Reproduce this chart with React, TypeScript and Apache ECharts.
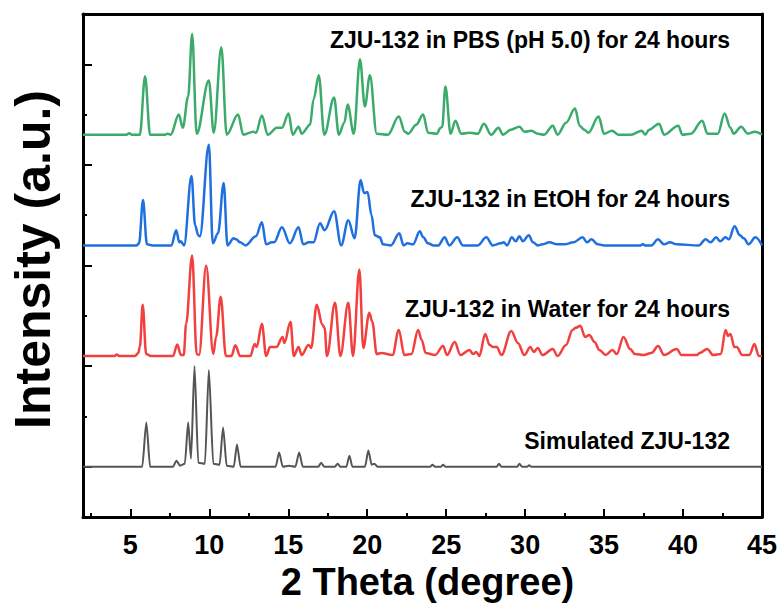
import React, { useEffect, useRef } from "react";
import * as echarts from "echarts";

const FONT = "'Liberation Sans', Arial, Helvetica, sans-serif";

const xMajorTicks = [5, 10, 15, 20, 25, 30, 35, 40, 45];
const xMinorTicks = [2.5, 7.5, 12.5, 17.5, 22.5, 27.5, 32.5, 37.5, 42.5];
const yMajorTicks = [50, 150, 250, 350, 450];
const yMinorTicks = [100, 200, 300, 400];

const seriesNames = [
  "Simulated ZJU-132",
  "ZJU-132 in Water for 24 hours",
  "ZJU-132 in EtOH for 24 hours",
  "ZJU-132 in PBS (pH 5.0) for 24 hours",
];
const seriesColors = ["#555555", "#F2403F", "#1E6FE0", "#3AAB6A"];
const seriesOffsets = [50, 160, 270, 380];

const simulated: [number, number][] = [
  [2, 0], [5.75, 0], [6.01, 44], [6.25, 0], [7.7, 0], [7.92, 6], [8.15, 1], [8.45, 3], [8.66, 44], [8.84, 8],
  [9.06, 100], [9.3, 4], [9.72, 3], [9.97, 96], [10.25, 3], [10.65, 2], [10.87, 39], [11.1, 1], [11.55, 0],
  [11.75, 22], [11.98, 0], [14.2, 0], [14.42, 14], [14.65, 0], [15.05, 1], [15.45, 0], [15.69, 14], [15.92, 0],
  [16.9, 0], [17.08, 4], [17.28, 0], [17.95, 0], [18.13, 3], [18.3, 0], [18.68, 0], [18.87, 11], [19.06, 0],
  [19.86, 0], [20.07, 16], [20.28, 2], [20.45, 3], [20.65, 0], [24.0, 0], [24.13, 2], [24.3, 0], [24.68, 0],
  [24.8, 2], [24.95, 0], [28.2, 0], [28.34, 3], [28.5, 0], [29.5, 0], [29.64, 3], [29.8, 0], [30.15, 0],
  [30.25, 1.5], [30.4, 0], [45, 0],
];

const water: [number, number][] = [
  [2, 0], [4.0, 0], [4.13, 1.5], [4.3, 0], [5.3, 0], [5.5, 3], [5.6, 9], [5.78, 51], [6.0, 2], [6.3, 0],
  [7.7, 0], [7.97, 11.5], [8.2, 1], [8.38, 1], [8.53, 32], [8.91, 100], [9.2, 2], [9.35, 1], [9.8, 90],
  [10.25, 2], [10.43, 19], [10.72, 59], [11.05, 0], [11.4, 0], [11.65, 10.7], [11.95, 0], [12.6, 0],
  [12.87, 12], [13.0, 9], [13.33, 32], [13.6, 0], [13.85, 9], [14.25, 9], [14.64, 19], [14.75, 13],
  [15.14, 34], [15.35, 0], [15.65, 9], [15.85, 1], [16.28, 11], [16.45, 8], [16.8, 51], [17.16, 31],
  [17.3, 28], [17.45, 0], [17.96, 53], [18.3, 0], [18.8, 53], [19.1, 0], [19.5, 86], [19.75, 8],
  [20.13, 43], [20.32, 34], [20.6, 2], [20.9, 3], [21.6, 1], [22.0, 26], [22.35, 1], [22.8, 2],
  [23.22, 26], [23.45, 16], [23.7, 3], [24.3, 1], [24.8, 10], [25.05, 1], [25.54, 14], [25.9, 1],
  [26.48, 6], [26.7, 2], [26.9, 4], [27.1, 0], [27.47, 22], [27.75, 11], [27.95, 9], [28.2, 9], [28.5, 1],
  [29.12, 25], [29.54, 13], [29.95, 1], [30.33, 9], [30.55, 4], [30.8, 8], [31.1, 1], [31.75, 7], [32.05, 0],
  [32.59, 11], [33.0, 26], [33.2, 28], [33.49, 30], [33.8, 19], [34.06, 21], [34.4, 14], [34.7, 6],
  [35.1, 1], [35.53, 6], [35.8, 2], [36.23, 19], [36.65, 7], [36.95, 2], [37.5, 1], [38.0, 3], [38.42, 10],
  [38.8, 1], [39.6, 7], [39.9, 1], [40.9, 1], [41.05, 3], [41.53, 7], [41.9, 1], [42.4, 2], [42.69, 26],
  [42.85, 20], [43.0, 22], [43.25, 9], [43.4, 9], [43.75, 1], [44.2, 1], [44.52, 12], [44.8, 0], [45, 0],
];

const ethanol: [number, number][] = [
  [2, 0], [5.4, 0], [5.55, 2], [5.8, 45], [6.05, 1], [6.4, 0], [7.6, 0], [7.9, 15], [8.1, 3], [8.2, 4],
  [8.4, 0], [8.87, 69], [9.1, 20], [9.3, 10], [9.4, 9], [9.97, 100], [10.22, 2], [10.55, 12], [10.91, 62],
  [11.15, 0], [11.54, 7], [11.7, 6], [11.95, 3], [12.3, 0], [12.95, 9], [13.33, 23], [13.6, 1], [13.95, 3],
  [14.1, 3], [14.6, 18], [15.1, 2], [15.65, 18], [15.95, 1], [16.3, 3], [16.6, 3], [17.01, 22], [17.3, 15],
  [17.9, 34], [18.35, 0], [18.8, 25], [19.2, 7], [19.58, 65], [19.8, 52], [20.02, 53], [20.27, 30],
  [20.48, 10], [20.8, 8], [21.0, 1], [21.5, 0], [22.03, 12], [22.3, 0], [22.55, 2], [22.9, 1], [23.33, 14],
  [23.55, 8], [23.85, 2], [24.2, 0], [24.5, 0], [24.9, 8], [25.2, 0], [25.7, 8], [26.05, 0], [27.0, 0],
  [27.54, 8], [27.95, 0], [28.45, 2], [28.65, 3], [28.85, 0], [29.16, 8], [29.4, 4], [29.64, 9], [29.85, 4],
  [30.23, 10], [30.5, 3], [30.8, 0], [31.1, 1], [31.53, 3], [32.05, 1], [32.5, 1], [33.05, 3], [33.64, 8],
  [33.92, 3], [34.2, 6], [34.6, 1], [35.0, 0], [37.3, 0], [37.45, 1], [37.6, 0], [38.0, 0], [38.41, 6],
  [38.8, 1], [39.17, 3], [39.6, 1], [41.0, 0], [41.43, 6], [41.75, 3], [42.1, 8], [42.35, 4], [42.69, 8],
  [42.9, 6], [43.26, 19], [43.6, 10], [43.85, 7], [44.15, 1], [44.58, 8], [45, 0],
];

const pbs: [number, number][] = [
  [2, 0], [4.75, 0], [4.92, 1.5], [5.1, 0], [5.6, 0], [5.93, 58], [6.25, 0], [7.2, 0], [7.35, 1], [7.55, 0],
  [8.07, 20], [8.32, 7], [8.66, 38], [8.91, 100], [9.2, 1], [9.97, 54], [10.28, 2], [10.76, 87], [11.1, 0],
  [11.82, 20], [12.15, 0], [12.8, 3], [12.95, 2], [13.33, 19], [13.7, 0], [14.28, 7], [14.6, 7], [15.02, 21],
  [15.28, 0], [15.65, 8], [15.85, 1], [16.38, 10], [16.6, 35], [16.93, 59], [17.28, 0], [17.9, 37],
  [18.2, 0], [18.55, 12], [18.76, 30], [19.15, 1], [19.54, 75], [19.85, 28], [20.17, 59], [20.6, 1],
  [21.3, 0], [22.0, 18], [22.38, 3], [22.6, 1], [23.1, 10], [23.54, 20], [23.85, 2], [24.4, 1], [24.65, 7],
  [24.75, 8], [24.95, 48], [25.28, 1], [25.58, 14], [25.95, 1], [26.5, 2], [27.0, 1], [27.39, 11],
  [27.85, 0], [28.31, 7], [28.6, 0], [29.1, 5], [29.64, 8], [29.95, 3], [30.4, 4], [30.8, 1], [31.2, 0],
  [31.75, 9], [32.05, 0], [32.59, 12], [33.16, 26], [33.45, 9], [33.75, 5], [34.0, 2], [34.65, 18],
  [35.0, 1], [35.5, 4], [35.9, 0], [36.7, 0], [37.4, 4], [37.6, 0], [37.85, 5], [38.48, 11], [38.8, 0],
  [39.7, 9], [39.95, 0], [40.5, 1], [41.21, 14], [41.55, 1], [42.2, 1], [42.63, 21], [43.0, 7], [43.2, 1],
  [43.68, 8], [44.1, 1], [44.55, 3], [45, 0],
];

const patterns = [simulated, water, ethanol, pbs];

export default function App() {
  const ref = useRef<HTMLDivElement>(null);

  useEffect(() => {
    document.body.style.margin = "0";
    if (!ref.current) return;
    const chart = echarts.init(ref.current, undefined, { renderer: "svg" });

    const baseTick = { color: "#000", width: 2 };
    const xBase = { type: "value", min: 2, max: 45, splitLine: { show: false } };
    const yBase = { type: "value", min: 0, max: 500, splitLine: { show: false } };

    const labelStyle = (text: string, x: number, y: number) => ({
      type: "text",
      x,
      y,
      style: {
        text,
        fill: "#000",
        font: `bold 23px ${FONT}`,
        textAlign: "right",
        textVerticalAlign: "middle",
      },
    });

    chart.setOption({
      animation: false,
      backgroundColor: "#fff",
      grid: { left: 80, right: 22, top: 14, bottom: 93, containLabel: false },
      xAxis: [
        {
          ...xBase,
          position: "bottom",
          axisLine: { show: true, onZero: false, lineStyle: { color: "#000", width: 3 } },
          axisTick: { show: true, inside: true, length: 8, lineStyle: baseTick, customValues: xMajorTicks },
          axisLabel: {
            show: true,
            customValues: xMajorTicks,
            fontSize: 27,
            fontWeight: "bold",
            fontFamily: FONT,
            color: "#000",
            margin: 14,
          },
          name: "2 Theta (degree)",
          nameLocation: "middle",
          nameGap: 39,
          nameTextStyle: {
            fontSize: 38,
            fontWeight: "bold",
            fontFamily: FONT,
            color: "#000",
            padding: [0, 0, 0, 10],
          },
        },
        {
          ...xBase,
          position: "bottom",
          axisLine: { show: false },
          axisTick: { show: true, inside: true, length: 4, lineStyle: baseTick, customValues: xMinorTicks },
          axisLabel: { show: false },
        },
        {
          ...xBase,
          position: "top",
          axisLine: { show: true, onZero: false, lineStyle: { color: "#000", width: 3 } },
          axisTick: { show: false },
          axisLabel: { show: false },
        },
      ],
      yAxis: [
        {
          ...yBase,
          position: "left",
          axisLine: { show: true, onZero: false, lineStyle: { color: "#000", width: 3 } },
          axisTick: { show: true, inside: true, length: 9, lineStyle: baseTick, customValues: yMajorTicks },
          axisLabel: { show: false },
          name: "Intensity (a.u.)",
          nameLocation: "middle",
          nameRotate: 90,
          nameGap: 25,
          nameTextStyle: {
            fontSize: 50,
            fontWeight: "bold",
            fontFamily: FONT,
            color: "#000",
            padding: [0, 0, 0, 12],
          },
        },
        {
          ...yBase,
          position: "left",
          axisLine: { show: false },
          axisTick: { show: true, inside: true, length: 4, lineStyle: baseTick, customValues: yMinorTicks },
          axisLabel: { show: false },
        },
        {
          ...yBase,
          position: "right",
          axisLine: { show: true, onZero: false, lineStyle: { color: "#000", width: 3 } },
          axisTick: { show: false },
          axisLabel: { show: false },
        },
      ],
      series: patterns.map((pts, i) => ({
        type: "line",
        name: seriesNames[i],
        xAxisIndex: 0,
        yAxisIndex: 0,
        data: pts.map(([x, y]) => [x, y + seriesOffsets[i]]),
        showSymbol: false,
        symbol: "none",
        smooth: i === 0 ? 0.25 : 0.35,
        smoothMonotone: "x",
        silent: true,
        lineStyle: { color: seriesColors[i], width: i === 0 ? 2 : 2.5 },
        z: 2 + i,
      })),
      graphic: [
        labelStyle(seriesNames[3], 730, 40),
        labelStyle(seriesNames[2], 730, 199),
        labelStyle(seriesNames[1], 730, 309),
        labelStyle(seriesNames[0], 730, 441),
      ],
    });

    return () => chart.dispose();
  }, []);

  return <div ref={ref} style={{ width: 784, height: 610 }} />;
}
